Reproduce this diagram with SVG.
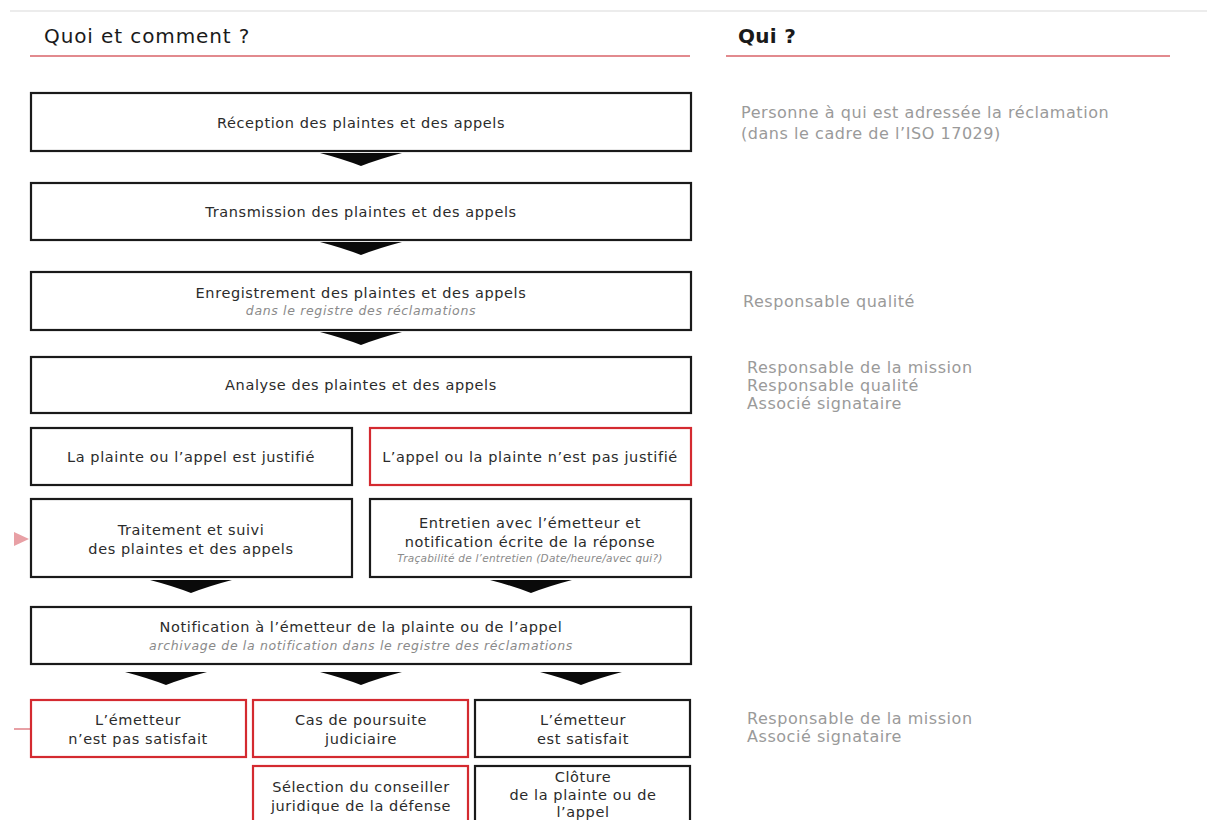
<svg xmlns="http://www.w3.org/2000/svg" width="1207" height="820" viewBox="0 0 1207 820">
<style>
.box{fill:#fff;stroke:#1a1a1a;stroke-width:2.2}
.rbox{fill:#fff;stroke:#d42a30;stroke-width:2.2}
.t{font-family:"DejaVu Sans","Noto Sans",sans-serif;font-size:14.5px;letter-spacing:0.6px;fill:#2b2b2b;text-anchor:middle}
.s{font-family:"DejaVu Sans","Noto Sans",sans-serif;font-size:12.5px;letter-spacing:0.65px;font-style:italic;fill:#8a8a8a;text-anchor:middle}
.s2{font-size:10.5px;letter-spacing:0.25px}
.q{font-family:"DejaVu Sans","Noto Sans",sans-serif;font-size:16px;letter-spacing:0.55px;fill:#9a9a9a}
.h{font-family:"DejaVu Sans","Noto Sans",sans-serif;font-size:20px;letter-spacing:0.9px;fill:#1a1a1a}
.hb{font-weight:bold;letter-spacing:0.3px}
.arr{fill:#0a0a0a}
</style>
<defs>
<path id="dn" d="M-41,0 L41,0 Q18,6 0,13 Q-18,6 -41,0 Z"/>
</defs>
<rect width="1207" height="820" fill="#fff"/>
<line x1="10" y1="11" x2="1207" y2="11" stroke="#e6e6e6" stroke-width="1.5"/>
<g id="headers">
<text class="h" x="44" y="43">Quoi et comment ?</text>
<line x1="30" y1="56" x2="690" y2="56" stroke="#e28a8e" stroke-width="2"/>
<text class="h hb" x="738" y="43">Qui ?</text>
<line x1="726" y1="56" x2="1170" y2="56" stroke="#e28a8e" stroke-width="2"/>
</g>
<g id="connectors">
<use href="#dn" class="arr" x="361" y="153"/>
<use href="#dn" class="arr" x="361" y="242"/>
<use href="#dn" class="arr" x="361" y="332"/>
<use href="#dn" class="arr" x="191" y="580"/>
<use href="#dn" class="arr" x="531" y="580"/>
<use href="#dn" class="arr" x="166" y="672"/>
<use href="#dn" class="arr" x="361" y="672"/>
<use href="#dn" class="arr" x="581" y="672"/>
<polygon points="14,532 29,539 14,546" fill="#e8a0a5"/>
<line x1="14" y1="729" x2="31" y2="729" stroke="#e8a0a5" stroke-width="2"/>
</g>
<g id="n1"><rect class="box" x="31" y="93" width="660" height="58"/><text class="t" x="361" y="128">Réception des plaintes et des appels</text></g>
<g id="n2"><rect class="box" x="31" y="183" width="660" height="57"/><text class="t" x="361" y="217">Transmission des plaintes et des appels</text></g>
<g id="n3"><rect class="box" x="31" y="272" width="660" height="58"/><text class="t" x="361" y="298">Enregistrement des plaintes et des appels</text><text class="s" x="361" y="315">dans le registre des réclamations</text></g>
<g id="n4"><rect class="box" x="31" y="357" width="660" height="56"/><text class="t" x="361" y="390">Analyse des plaintes et des appels</text></g>
<g id="n5a"><rect class="box" x="31" y="428" width="321" height="57"/><text class="t" x="191" y="462">La plainte ou l’appel est justifié</text></g>
<g id="n5b"><rect class="rbox" x="370" y="428" width="321" height="57"/><text class="t" x="530" y="462">L’appel ou la plainte n’est pas justifié</text></g>
<g id="n6a"><rect class="box" x="31" y="499" width="321" height="78"/><text class="t" x="191" y="535">Traitement et suivi</text><text class="t" x="191" y="554">des plaintes et des appels</text></g>
<g id="n6b"><rect class="box" x="370" y="499" width="321" height="78"/><text class="t" x="530" y="528">Entretien avec l’émetteur et</text><text class="t" x="530" y="547">notification écrite de la réponse</text><text class="s s2" x="530" y="562">Traçabilité de l’entretien (Date/heure/avec qui?)</text></g>
<g id="n7"><rect class="box" x="31" y="607" width="660" height="57"/><text class="t" x="361" y="632">Notification à l’émetteur de la plainte ou de l’appel</text><text class="s" x="361" y="650">archivage de la notification dans le registre des réclamations</text></g>
<g id="n8a"><rect class="rbox" x="31" y="700" width="215" height="57"/><text class="t" x="138" y="725">L’émetteur</text><text class="t" x="138" y="744">n’est pas satisfait</text></g>
<g id="n8b"><rect class="rbox" x="253" y="700" width="215" height="57"/><text class="t" x="361" y="725">Cas de poursuite</text><text class="t" x="361" y="744">judiciaire</text></g>
<g id="n8c"><rect class="box" x="475" y="700" width="215" height="57"/><text class="t" x="583" y="725">L’émetteur</text><text class="t" x="583" y="744">est satisfait</text></g>
<g id="n9b"><rect class="rbox" x="253" y="766" width="215" height="70"/><text class="t" x="361" y="792">Sélection du conseiller</text><text class="t" x="361" y="811">juridique de la défense</text></g>
<g id="n9c"><rect class="box" x="475" y="766" width="215" height="70"/><text class="t" x="583" y="782">Clôture</text><text class="t" x="583" y="800">de la plainte ou de</text><text class="t" x="583" y="817">l’appel</text></g>
<g id="who">
<text class="q" x="741" y="118">Personne à qui est adressée la réclamation</text>
<text class="q" x="741" y="139">(dans le cadre de l’ISO 17029)</text>
<text class="q" x="743" y="307">Responsable qualité</text>
<text class="q" x="747" y="373">Responsable de la mission</text>
<text class="q" x="747" y="391">Responsable qualité</text>
<text class="q" x="747" y="409">Associé signataire</text>
<text class="q" x="747" y="724">Responsable de la mission</text>
<text class="q" x="747" y="742">Associé signataire</text>
</g>
</svg>
